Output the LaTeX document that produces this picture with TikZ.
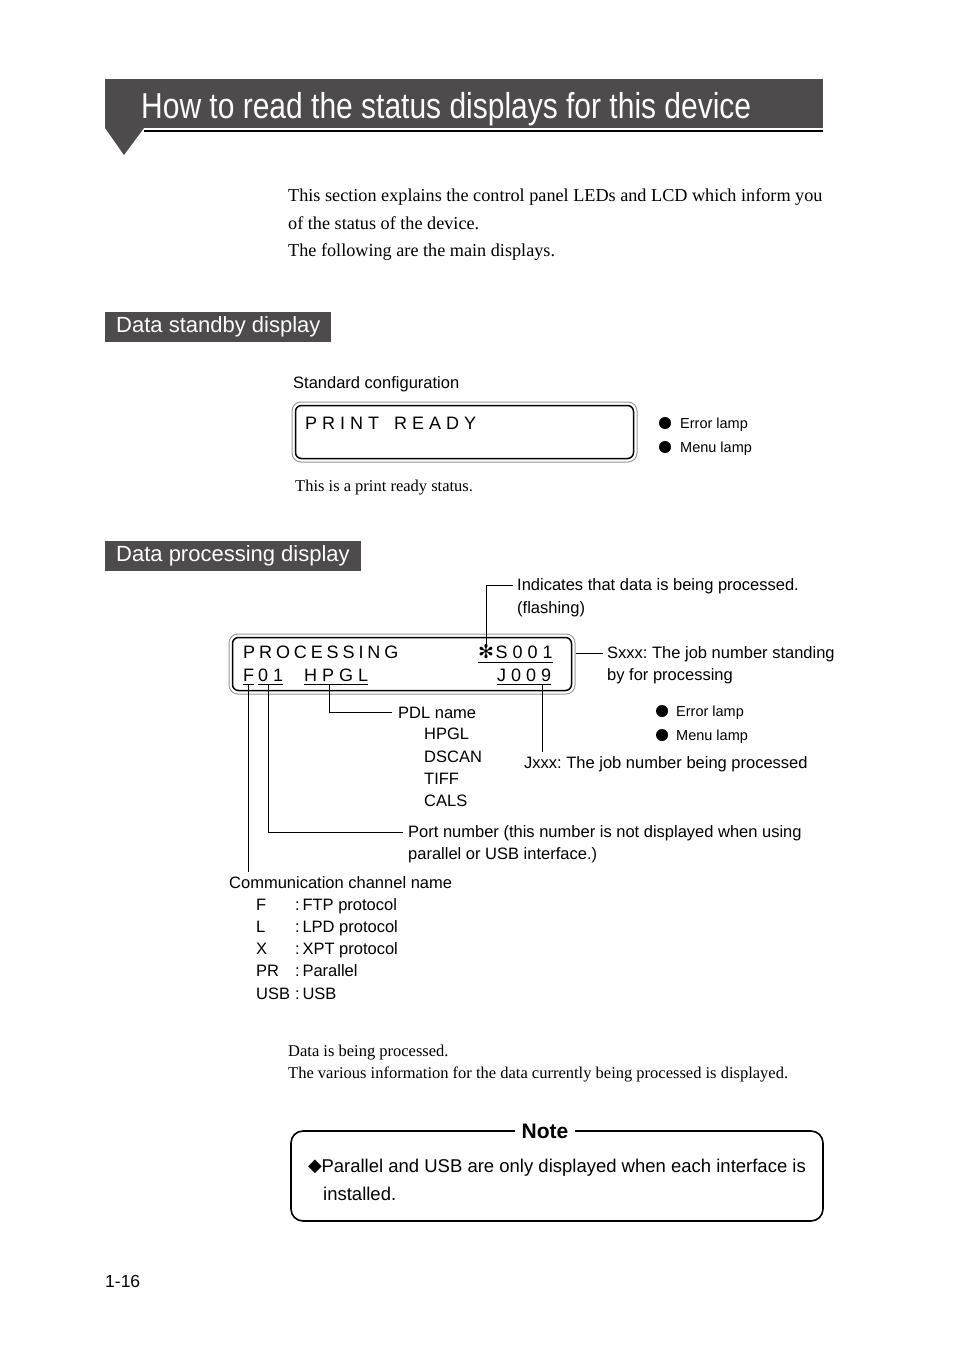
\documentclass[tikz,border=0pt]{standalone}
\usepackage{fontspec}
\setmainfont{Liberation Serif}
\setsansfont{Liberation Sans}
\newfontfamily\symfont{DejaVu Sans}
\usetikzlibrary{positioning}
\definecolor{bandgray}{HTML}{4D4B4C}
\definecolor{framegray}{HTML}{9A9A9A}
\newcommand{\gp}{\hspace{3.9pt}}
\frenchspacing

\begin{document}
\begin{tikzpicture}[x=1pt, y=-1pt,
  body/.style={font=\fontsize{18.2}{21}\selectfont, inner sep=0pt, anchor=base west},
  small/.style={font=\fontsize{16.5}{19}\selectfont, inner sep=0pt, anchor=base west},
  lab/.style={font=\sffamily\fontsize{16.5}{19}\selectfont, inner sep=0pt, anchor=base west},
  lamplab/.style={font=\sffamily\fontsize{14.5}{17}\selectfont, inner sep=0pt, anchor=base west},
  lcdtxt/.style={font=\sffamily\fontsize{18}{20}\selectfont, inner sep=0pt, anchor=base west},
  lamp/.style={circle, fill=black, minimum size=12pt, inner sep=0pt},
  sechead/.style={fill=bandgray, text=white, anchor=north west, font=\sffamily\fontsize{22}{25}\selectfont,
                  inner xsep=11pt, inner ysep=0pt, minimum height=30pt},
  lcdout/.style={draw=framegray, line width=1pt, rounded corners=9pt},
  lcdin/.style={draw=black, line width=1.5pt, rounded corners=6pt},
  uline/.style={line width=0.9pt},
  leader/.style={line width=0.8pt}]
\useasboundingbox (0,0) rectangle (954,1348);

% title band
\fill[bandgray] (105,79) rectangle (823,128);
\fill[bandgray] (105,128) -- (144,128) -- (124,155) -- cycle;
\draw[line width=2.5pt] (144,131) -- (823,131);
\node[anchor=base west, inner sep=0pt, text=white, font=\sffamily\fontsize{36}{40}\selectfont]
  (title) at (141,119) {\scalebox{0.833}[1]{How to read the status displays for this device}};

\node[body] (intro1) at (288,202) {This section explains the control panel LEDs and LCD which inform you};
\node[body] (intro2) at (288,230) {of the status of the device.};
\node[body] (intro3) at (288,257) {The following are the main displays.};

% data standby display
\node[sechead] (standby) at (105,312) {Data standby display};
\node[lab] (stdconf) at (293,388) {Standard configuration};
\node[lcdout, minimum width=345pt, minimum height=60pt] (lcd1) at (464.5,432) {};
\draw[lcdin] ([shift={(4,4)}]lcd1.north west) rectangle ([shift={(-4,-4)}]lcd1.south east);
\node[lcdtxt] (ready) at (305,429) {P R I N T \ \ R E A D Y};
\node[lamp] (err1) at (665,423) {};
\node[lamp] (menu1) at (665,447) {};
\node[lamplab] (errlab1) at (680,428) {Error lamp};
\node[lamplab] (menulab1) at (680,452) {Menu lamp};
\node[small] (readytxt) at (295,491) {This is a print ready status.};

% data processing display
\node[sechead] (processing) at (105,541) {Data processing display};
\node[lcdout, minimum width=346pt, minimum height=60pt] (lcd2) at (402,664) {};
\draw[lcdin] ([shift={(4,4)}]lcd2.north west) rectangle ([shift={(-4,-4)}]lcd2.south east);
\node[lcdtxt] (proc) at (243,658) {P\gp R\gp O\gp C\gp E\gp S\gp S\gp I\gp N\gp G};
\node[lcdtxt, font=\symfont\fontsize{19}{20}\selectfont] (flag) at (478,658) {✻};
\node[lcdtxt, right=1pt of flag.base east, anchor=base west] (sjob) {S 0 0 1};
\node[lcdtxt] (chan) at (243,681) {F};
\node[lcdtxt] (port) at (258,681) {0 1};
\node[lcdtxt] (pdl) at (304,681) {H P G L};
\node[lcdtxt] (jjob) at (497,681) {J 0 0 9};
\draw[uline] (flag.base west) ++(0,4) -- ([yshift=-4pt]sjob.base east);
\draw[uline] ([yshift=-3pt]chan.base west) -- ([yshift=-3pt]chan.base east);
\draw[uline] ([yshift=-3pt]port.base west) -- ([yshift=-3pt]port.base east);
\draw[uline] ([yshift=-3pt]pdl.base west) -- ([yshift=-3pt]pdl.base east);
\draw[uline] ([yshift=-3pt]jjob.base west) -- ([yshift=-3pt]jjob.base east);

\node[lab] (indic) at (517,590) {Indicates that data is being processed.};
\node[lab] (flashing) at (517,613) {(flashing)};
\node[lab] (sxxx) at (607,658) {Sxxx: The job number standing};
\node[lab] (sxxx2) at (607,680) {by for processing};
\node[lamp] (err2) at (662,711) {};
\node[lamp] (menu2) at (662,735) {};
\node[lamplab] (errlab2) at (676,716) {Error lamp};
\node[lamplab] (menulab2) at (676,740) {Menu lamp};
\node[lab] (jxxx) at (524,768) {Jxxx: The job number being processed};

\node[lab] (pdlname) at (398,718) {PDL name};
\foreach \n/\y in {HPGL/739, DSCAN/762, TIFF/784, CALS/806}
  \node[lab] (pdl\n) at (424,\y) {\n};
\node[lab] (portlab) at (408,837) {Port number (this number is not displayed when using};
\node[lab] (portlab2) at (408,859) {parallel or USB interface.)};
\node[lab] (commlab) at (229,888) {Communication channel name};
\foreach \k/\v/\y in {F/FTP protocol/910, L/LPD protocol/932, X/XPT protocol/954, PR/Parallel/976, USB/USB/999}{
  \node[lab] (key\k) at (256,\y) {\k};
  \node[lab] (val\k) at (295,\y) {:\,\v};
}

% leaders
\draw[leader] (flag.north) |- ([xshift=-4pt]indic.west);
\draw[leader] (lcd2.east |- sxxx.west) -- ([xshift=-4pt]sxxx.west);
\draw[leader] ([shift={(45pt,-3pt)}]jjob.base west) -- ([xshift=18pt,yshift=4pt]jxxx.north west);
\draw[leader] ([shift={(25pt,-3pt)}]pdl.base west) |- ([xshift=-6pt]pdlname.west);
\draw[leader] ([shift={(10pt,-3pt)}]port.base west) |- ([xshift=-5pt]portlab.west);
\draw[leader] ([shift={(5pt,-3pt)}]chan.base west) -- ([xshift=19pt,yshift=4pt]commlab.north west);

\node[small] (busy1) at (288,1056) {Data is being processed.};
\node[small] (busy2) at (288,1078) {The various information for the data currently being processed is displayed.};

% note
\node[draw, line width=1.6pt, rounded corners=12pt, minimum width=532pt, minimum height=90pt] (note) at (557,1176) {};
\node[fill=white, inner xsep=7pt, inner ysep=2pt, font=\sffamily\bfseries\fontsize{21}{24}\selectfont] (notelab) at (545,1131) {Note};
\node[lab, font=\sffamily\fontsize{18.5}{21}\selectfont] (note1) at (308,1172) {\raisebox{1pt}{\symfont\fontsize{18}{18}\selectfont ◆}\hspace{-0.5pt}Parallel and USB are only displayed when each interface is};
\node[lab, font=\sffamily\fontsize{18.5}{21}\selectfont] (note2) at (323,1200) {installed.};

\node[lab, font=\sffamily\fontsize{17.5}{20}\selectfont] (pagenum) at (105,1287) {1-16};
\end{tikzpicture}
\end{document}
